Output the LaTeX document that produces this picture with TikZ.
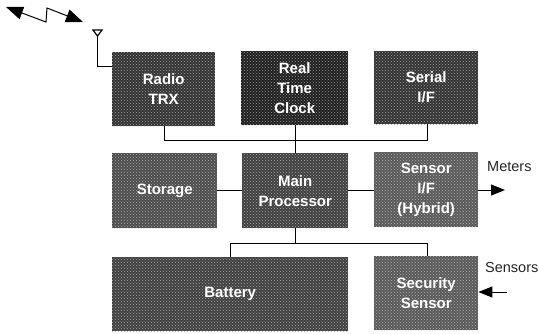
\documentclass[tikz,border=0pt]{standalone}
\usepackage{fontspec}
\setmainfont{Liberation Sans}
\usetikzlibrary{arrows.meta,patterns}
\tikzset{
  x=1pt,y=-1pt,
  blk/.style={draw=none,fill=#1,minimum width=0pt,inner sep=0pt,text=white,align=center,font=\fontsize{15}{20}\selectfont\bfseries},
  wire/.style={draw=black,line width=1pt},
  sig/.style={wire,-{Triangle[length=14pt,width=11pt]}},
  lab/.style={inner sep=0pt,font=\fontsize{14.5}{17}\selectfont,text=black!85},
}
\newcommand{\blockat}[7]{% name x0 y0 x1 y1 fill text
  \path[fill=#6] (#2,#3) rectangle (#4,#5);
  \path[pattern=crosshatch dots,pattern color=white!55!#6] (#2,#3) rectangle (#4,#5);
  \node[blk=none,fill=none,minimum width={#4pt-#2pt},minimum height={#5pt-#3pt},anchor=north west] (#1) at (#2,#3) {#7};
}
\begin{document}
\begin{tikzpicture}
\useasboundingbox (0,0) rectangle (539,333);
\fill[white] (0,0) rectangle (539,333);
\blockat{radio}{112}{52}{215}{126}{black!80}{Radio\\TRX}
\blockat{rtc}{241}{51}{348}{125}{black!88}{Real\\Time\\Clock}
\blockat{serial}{374}{51}{478}{124}{black!80}{Serial\\I/F}
\blockat{storage}{112}{153}{217}{228}{black!70}{Storage}
\blockat{main}{242}{153}{348}{228}{black!75}{Main\\Processor}
\blockat{sensor}{374}{152}{478}{227}{black!65}{Sensor\\I/F\\(Hybrid)}
\blockat{battery}{112}{257}{348}{331}{black!75}{Battery}
\blockat{security}{374}{256}{478}{330}{black!65}{Security\\Sensor}
% antenna
\coordinate (ant) at (97,36);
\coordinate (antcorner) at (97,66);
\draw[wire] (ant) -- (antcorner) -- (radio.west |- antcorner);
\draw[black,line width=1.2pt,fill=white] (93,30) -- (102,30) -- (97.5,36) -- cycle;
% bus
\coordinate (busL) at (164,140);
\coordinate (busR) at (427,140);
\draw[wire] (busL |- radio.south) -- (busL) -- (busR) -- (busR |- serial.south);
\draw[wire] (295,125) -- (295,153);
% middle row
\draw[wire] (main.east |- 0,190) -- (sensor.west |- 0,190);
\draw[wire] (storage.east |- 0,190) -- (main.west |- 0,190);
% lower bus
\coordinate (lowL) at (230,243);
\coordinate (lowR) at (427,243);
\draw[wire] (295,228) -- (295,243);
\draw[wire] (lowL |- battery.north) -- (lowL) -- (lowR) -- (lowR |- security.north);
% external
\coordinate (mtr) at (505,190);
\draw[sig] (sensor.east |- mtr) -- (mtr);
\node[lab,anchor=west] (meters) at (487,167) {Meters};
\coordinate (sns) at (507,292);
\draw[sig] (sns) -- (sns -| security.east);
\node[lab,anchor=west] (sensors) at (485,268) {Sensors};
% radio wave
\coordinate (w0) at (6,7);
\coordinate (w1) at (46,22);
\coordinate (w2) at (47,8);
\coordinate (w3) at (83,22);
\draw[wire,{Triangle[length=17pt,width=13pt]}-{Triangle[length=17pt,width=13pt]}] (w0) -- (w1) -- (w2) -- (w3);
\end{tikzpicture}
\end{document}
